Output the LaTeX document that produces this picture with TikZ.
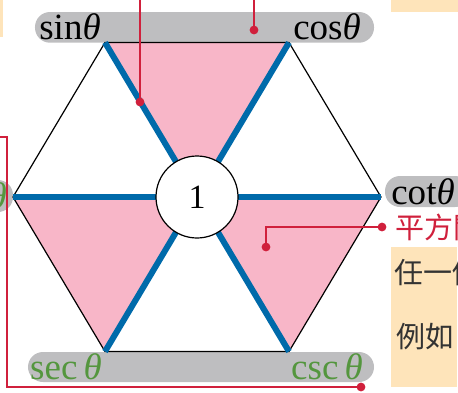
\documentclass[tikz,border=0pt]{standalone}
\usepackage{fontspec}
\setmainfont{Liberation Serif}
\newfontfamily\cjk{Noto Sans CJK TC}
\usetikzlibrary{calc, positioning}
\definecolor{HexPink}{RGB}{248, 182, 200}
\definecolor{SpokeBlue}{RGB}{0, 106, 170}
\definecolor{BarGray}{RGB}{190, 190, 192}
\definecolor{NoteBeige}{RGB}{254, 228, 186}
\definecolor{CallRed}{RGB}{208, 32, 60}
\definecolor{FuncGreen}{RGB}{84, 150, 62}
\tikzset{
  trigbar/.style={fill=BarGray, rounded corners=7.5pt},
  triglabel/.style={inner sep=0pt, font=\fontsize{18.5}{20}\selectfont},
  spoke/.style={SpokeBlue, line width=3pt},
  hexedge/.style={black, line width=0.6pt, line join=miter},
  callout/.style={CallRed, line width=1pt},
  reddot/.style={fill=CallRed},
  notetext/.style={inner sep=0pt, anchor=west, font=\cjk\fontsize{14.5}{16}\selectfont},
}

\begin{document}
\begin{tikzpicture}[x=0.5pt, y=0.5pt]
            \useasboundingbox (-197,-195) rectangle (261,197);
            \clip (-197,-195) rectangle (261,197);
            % Margin notes of the page
            \fill[NoteBeige] (-197,197) rectangle (-194,160);
            \fill[NoteBeige] (194,197) rectangle (261,185);
            \fill[NoteBeige] (194,-50) rectangle (260,-190);
            % Gray label bars
            \fill[trigbar] (-162,185) rectangle (177,154.3);
            \fill[trigbar] (-169,-155) rectangle (177,-185);
            \fill[trigbar] (-260,17) rectangle (-184,-15);
            \fill[trigbar] (188,21) rectangle (273,-10);
            % Hexagon corners
            \foreach \a in {0,60,...,300} {
                \coordinate (v\a) at (\a:184 and 178.4);
            }
            \coordinate (mid) at (0,0);
            % Pink faces
            \foreach \p/\q in {60/120, 180/240, 300/0} {
                \fill[HexPink] (v\p) -- (v\q) -- (mid) -- cycle;
            }
            % Outline
            \draw[hexedge] (v0) -- (v60) -- (v120) -- (v180) -- (v240) -- (v300) -- cycle;
            % Blue spokes
            \foreach \a in {0,60,...,300} {
                \draw[spoke] (mid) -- (v\a);
            }
            \node[circle, draw, fill=white, line width=0.6pt, minimum size=41pt,
                  inner sep=0pt, font=\fontsize{17}{19}\selectfont] (one) at (mid) {1};
            % Function names
            \node[triglabel] (sin) at (-127,170) {sin\textit{θ}};
            \node[triglabel] (cos) at (130,170) {cos\textit{θ}};
            \node[triglabel] (cot) at (226,5) {cot\textit{θ}};
            \node[triglabel, FuncGreen] (tan) at (-222,1) {tan\textit{θ}};
            \node[triglabel, FuncGreen] (sec) at (-131,-170) {sec\,\textit{θ}};
            \node[triglabel, FuncGreen] (csc) at (130,-170) {csc\,\textit{θ}};
            % Notes
            \node[notetext, CallRed] (square) at (198,-30) {平方關};
            \node[notetext, black!80] (anyone) at (197,-76) {任一個};
            \node[notetext, black!80] (example) at (199,-140) {例如};
            % Red callouts
            \coordinate (topA) at (-57,197);
            \coordinate (dotA) at (-57,95);
            \coordinate (topB) at (57,197);
            \coordinate (dotB) at (57,167);
            \coordinate (edgeC) at (-197,60);
            \coordinate (bendC) at (-190,60);
            \coordinate (dotC) at (164,-190);
            \coordinate (dotD) at (185,-30);
            \coordinate (dotE) at (69,-50);
            \draw[callout] (topA) -- (dotA);
            \draw[callout] (topB) -- (dotB);
            \draw[callout] (edgeC) -- (bendC) |- (dotC);
            \draw[callout] (dotD) -| (dotE);
            \foreach \d in {dotA, dotB, dotC, dotD, dotE} {
                \fill[reddot] (\d) circle (2.2pt);
            }
        \end{tikzpicture}
\end{document}
